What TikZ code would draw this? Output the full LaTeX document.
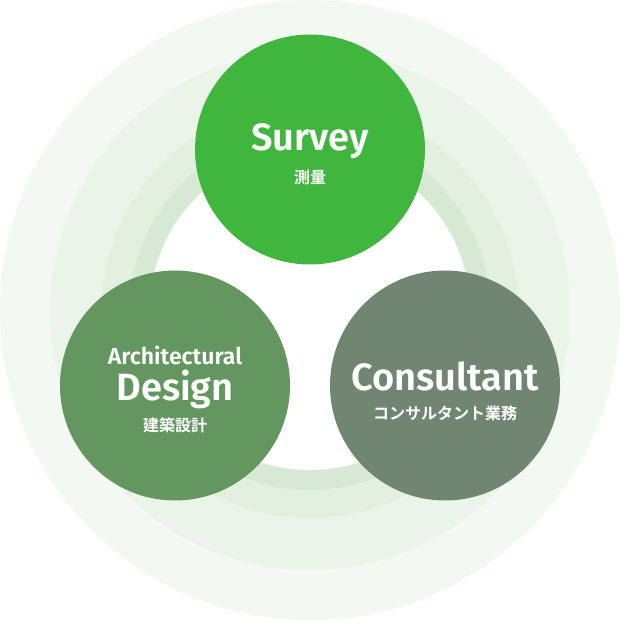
\documentclass[tikz,border=0pt]{standalone}
\usepackage{fontspec}
\setmainfont{Fira Sans}
\newfontfamily\latinbold{Fira Sans SemiBold}
\newfontfamily\cjk{Noto Sans CJK JP Bold}
\definecolor{ringA}{HTML}{F3F8F2}
\definecolor{ringB}{HTML}{EAF4E8}
\definecolor{ringC}{HTML}{E3F0E0}
\definecolor{ringD}{HTML}{D6EAD3}
\definecolor{surveyG}{HTML}{40B63F}
\definecolor{archG}{HTML}{64975F}
\definecolor{consG}{HTML}{708672}
\begin{document}
\begin{tikzpicture}[x=1pt,y=-1pt,
  ring/.style={circle,inner sep=0pt,draw=none},
  bubble/.style={circle,inner sep=0pt,minimum size=230pt,draw=none},
  en/.style={text=white,inner sep=0pt,font=\latinbold},
  jp/.style={text=white,inner sep=0pt,font=\cjk\fontsize{16}{16}\selectfont}]
\useasboundingbox (0,0) rectangle (620,620);
\node[ring,fill=ringA,minimum size=620pt] (r1) at (310,310) {};
\node[ring,fill=ringB,minimum size=520pt] (r2) at (310,310) {};
\node[ring,fill=ringC,minimum size=416pt] (r3) at (310,310) {};
\node[ring,fill=ringD,minimum size=360pt] (r4) at (310,310) {};
\node[ring,fill=white,minimum size=320pt] (r5) at (310,310) {};
\node[bubble,fill=surveyG] (sv) at (310,149.5) {};
\node[bubble,fill=archG] (ad) at (175,385.5) {};
\node[bubble,fill=consG] (cs) at (445,385.5) {};
\node[en,font=\latinbold\fontsize{38}{38}\selectfont] (svt) at (310,141) {Survey};
\node[jp] (svj) at (310,177) {測量};
\node[en,font=\latinbold\fontsize{23}{23}\selectfont] (adt1) at (175,355) {Architectural};
\node[en,font=\latinbold\fontsize{38}{38}\selectfont] (adt2) at (175,389) {Design};
\node[jp] (adj) at (175,425) {建築設計};
\node[en,font=\latinbold\fontsize{38}{38}\selectfont] (cst) at (445,376) {Consultant};
\node[jp] (csj) at (445,413) {コンサルタント業務};
\end{tikzpicture}
\end{document}
